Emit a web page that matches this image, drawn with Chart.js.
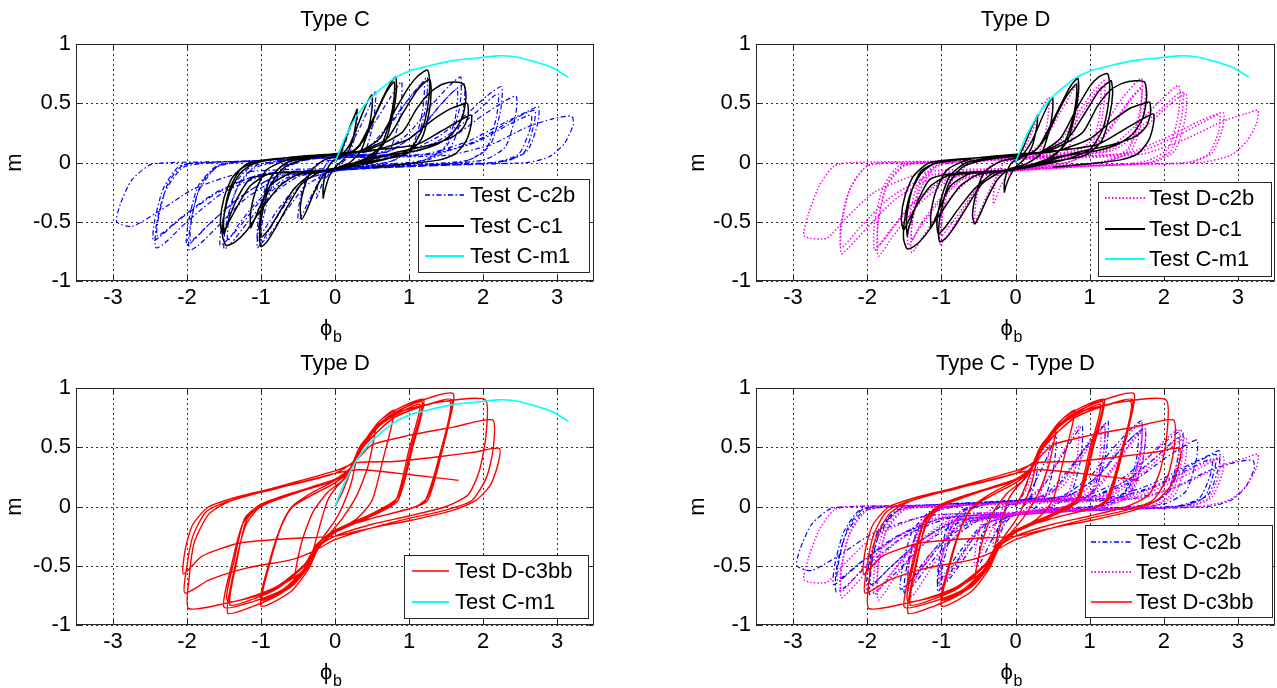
<!DOCTYPE html>
<html><head><meta charset="utf-8">
<script src="https://cdn.jsdelivr.net/npm/chart.js@4/dist/chart.umd.min.js"></script>
<style>
html,body{margin:0;padding:0;background:#fff;width:1277px;height:688px;overflow:hidden}
canvas{position:absolute}
</style></head><body>
<canvas id="c1" style="left:0;top:0;width:640px;height:344px" width="640" height="344"></canvas>
<canvas id="c2" style="left:640px;top:0;width:637px;height:344px" width="637" height="344"></canvas>
<canvas id="c3" style="left:0;top:344px;width:640px;height:344px" width="640" height="344"></canvas>
<canvas id="c4" style="left:640px;top:344px;width:637px;height:344px" width="637" height="344"></canvas>
<script>
// ---------- axis ticks ----------
const xTicks = [-3, -2, -1, 0, 1, 2, 3];
const xTickLabels = ['-3', '-2', '-1', '0', '1', '2', '3'];
const yTicks = [-1, -0.5, 0, 0.5, 1];
const yTickLabels = ['-1', '-0.5', '0', '0.5', '1'];
const titles = ['Type C', 'Type D', 'Type D', 'Type C - Type D'];

// ---------- series (phi_b, m) ----------
const testCm1 = [[0,0],[0.05,0.08],[0.12,0.19],[0.2,0.29],[0.3,0.4],[0.45,0.52],[0.6,0.61],[0.8,0.71],[1.0,0.77],[1.3,0.82],[1.6,0.86],[1.9,0.88],[2.2,0.9],[2.45,0.89],[2.7,0.85],[2.9,0.81],[3.05,0.76],[3.15,0.72]];

const testCc2b = [[0,0],
[0.1,0.1],[0.2,0.28],[0.3,0.42],[0.28,0.25],[0.18,0.05],[0.0,-0.05],[-0.15,-0.15],[-0.25,-0.3],[-0.22,-0.15],[-0.1,0.0],
[0.1,0.04],[0.3,0.25],[0.45,0.45],[0.55,0.6],[0.52,0.35],[0.4,0.08],[0.2,-0.04],[0.0,-0.07],[-0.2,-0.15],[-0.35,-0.32],[-0.5,-0.5],[-0.47,-0.3],[-0.35,-0.08],[-0.2,0.0],
[0.1,0.04],[0.35,0.15],[0.55,0.35],[0.75,0.55],[0.9,0.68],[0.88,0.4],[0.75,0.12],[0.5,0.0],[0.2,-0.05],[-0.1,-0.09],[-0.4,-0.2],[-0.65,-0.4],[-0.85,-0.58],[-1.0,-0.68],[-0.98,-0.5],[-0.85,-0.2],[-0.65,-0.04],[-0.4,0.02],
[0.0,0.05],[0.4,0.1],[0.7,0.3],[0.95,0.5],[1.15,0.65],[1.25,0.72],[1.22,0.45],[1.08,0.15],[0.8,0.02],[0.4,-0.03],[0.0,-0.07],[-0.4,-0.15],[-0.7,-0.38],[-0.9,-0.58],[-1.05,-0.72],[-1.02,-0.5],[-0.9,-0.22],[-0.7,-0.04],[-0.4,0.02],
[0.0,0.05],[0.45,0.1],[0.75,0.32],[1.0,0.54],[1.2,0.68],[1.18,0.42],[1.03,0.12],[0.75,0.01],[0.3,-0.04],[0.0,-0.07],[-0.45,-0.16],[-0.75,-0.38],[-0.95,-0.56],[-1.05,-0.66],[-1.03,-0.45],[-0.92,-0.18],[-0.72,-0.03],[-0.4,0.02],
[0.0,0.05],[0.6,0.08],[1.0,0.25],[1.3,0.48],[1.55,0.65],[1.7,0.72],[1.68,0.45],[1.52,0.15],[1.2,0.02],[0.6,-0.02],[0.0,-0.07],[-0.5,-0.12],[-0.9,-0.3],[-1.2,-0.52],[-1.4,-0.68],[-1.5,-0.73],[-1.48,-0.55],[-1.35,-0.25],[-1.1,-0.05],[-0.7,0.01],
[0.0,0.05],[0.7,0.09],[1.1,0.25],[1.4,0.47],[1.6,0.6],[1.75,0.66],[1.72,0.4],[1.55,0.12],[1.2,0.01],[0.6,-0.03],[0.0,-0.07],[-0.6,-0.13],[-1.0,-0.32],[-1.3,-0.55],[-1.55,-0.7],[-1.52,-0.5],[-1.4,-0.22],[-1.15,-0.04],[-0.8,0.01],
[0.0,0.05],[0.75,0.1],[1.15,0.28],[1.42,0.48],[1.65,0.62],[1.62,0.36],[1.45,0.1],[1.1,0.0],[0.5,-0.03],[0.0,-0.07],[-0.65,-0.13],[-1.05,-0.33],[-1.3,-0.52],[-1.45,-0.66],[-1.43,-0.45],[-1.3,-0.18],[-1.05,-0.02],[-0.7,0.01],
[0.0,0.05],[0.9,0.08],[1.4,0.22],[1.8,0.42],[2.05,0.56],[2.25,0.64],[2.24,0.45],[2.1,0.15],[1.8,0.02],[1.0,-0.02],[0.0,-0.07],[-0.7,-0.12],[-1.2,-0.3],[-1.6,-0.55],[-1.85,-0.7],[-1.97,-0.74],[-1.96,-0.55],[-1.85,-0.25],[-1.6,-0.04],[-1.2,0.01],
[0.0,0.05],[1.0,0.08],[1.6,0.22],[2.0,0.4],[2.3,0.52],[2.45,0.56],[2.44,0.4],[2.3,0.13],[2.0,0.02],[1.0,-0.03],[0.0,-0.07],[-0.8,-0.12],[-1.3,-0.3],[-1.7,-0.52],[-2.0,-0.7],[-1.98,-0.5],[-1.85,-0.2],[-1.6,-0.03],[-1.2,0.01],
[0.0,0.05],[1.0,0.08],[1.5,0.22],[1.9,0.42],[2.2,0.58],[2.18,0.38],[2.03,0.1],[1.7,0.0],[0.9,-0.03],[0.0,-0.07],[-0.8,-0.12],[-1.3,-0.3],[-1.7,-0.52],[-1.95,-0.66],[-1.93,-0.45],[-1.8,-0.17],[-1.55,-0.02],[-1.15,0.01],
[0.0,0.05],[1.2,0.07],[1.8,0.18],[2.3,0.34],[2.6,0.43],[2.75,0.47],[2.74,0.33],[2.6,0.1],[2.3,0.01],[1.2,-0.02],[0.0,-0.06],[-0.9,-0.1],[-1.5,-0.25],[-2.0,-0.5],[-2.3,-0.68],[-2.42,-0.72],[-2.42,-0.55],[-2.3,-0.25],[-2.05,-0.04],[-1.6,0.0],
[0.0,0.04],[1.3,0.07],[1.9,0.18],[2.4,0.36],[2.7,0.44],[2.68,0.3],[2.55,0.08],[2.2,0.0],[1.2,-0.03],[0.0,-0.06],[-1.0,-0.1],[-1.6,-0.26],[-2.1,-0.48],[-2.45,-0.66],[-2.44,-0.5],[-2.32,-0.22],[-2.1,-0.03],[-1.7,0.0],
[0.0,0.04],[1.3,0.07],[1.9,0.17],[2.35,0.32],[2.65,0.4],[2.63,0.27],[2.48,0.07],[2.15,0.0],[1.2,-0.03],[0.0,-0.06],[-1.0,-0.1],[-1.6,-0.25],[-2.05,-0.45],[-2.4,-0.62],[-2.38,-0.45],[-2.26,-0.18],[-2.05,-0.02],[-1.7,0.0],
[0.0,0.04],[1.5,0.06],[2.1,0.15],[2.6,0.3],[2.95,0.37],[3.2,0.39],[3.22,0.32],[3.1,0.16],[2.9,0.05],[2.6,0.0],[1.5,-0.02],[0.0,-0.05],[-1.2,-0.08],[-1.9,-0.22],[-2.4,-0.42],[-2.75,-0.54],[-2.95,-0.5],[-2.9,-0.35],[-2.75,-0.15],[-2.5,-0.02],[-2.2,0.0],[-1.0,0.01]];

const testCc1 = [[0,0],
[0.1,0.12],[0.2,0.3],[0.28,0.42],[0.3,0.45],[0.28,0.32],[0.22,0.15],[0.12,0.03],[0.0,-0.04],[-0.08,-0.12],[-0.14,-0.24],[-0.16,-0.3],[-0.16,-0.2],[-0.12,-0.08],[-0.05,0.0],[0.05,0.04],
[0.2,0.15],[0.33,0.35],[0.43,0.5],[0.5,0.57],[0.5,0.45],[0.45,0.28],[0.35,0.1],[0.2,0.0],[0.0,-0.05],[-0.15,-0.1],[-0.28,-0.25],[-0.38,-0.4],[-0.45,-0.48],[-0.47,-0.38],[-0.42,-0.22],[-0.32,-0.07],[-0.15,0.02],[0.1,0.06],
[0.3,0.12],[0.5,0.35],[0.65,0.55],[0.75,0.67],[0.82,0.72],[0.83,0.6],[0.78,0.4],[0.68,0.18],[0.5,0.05],[0.1,-0.04],[-0.2,-0.08],[-0.45,-0.18],[-0.65,-0.38],[-0.82,-0.57],[-0.92,-0.67],[-1.0,-0.71],[-1.02,-0.62],[-0.98,-0.42],[-0.88,-0.2],[-0.7,-0.05],[-0.5,0.01],[-0.2,0.05],[0.2,0.08],
[0.4,0.2],[0.56,0.42],[0.7,0.6],[0.8,0.68],[0.8,0.55],[0.74,0.35],[0.62,0.14],[0.4,0.03],[0.0,-0.05],[-0.3,-0.09],[-0.55,-0.22],[-0.75,-0.42],[-0.9,-0.57],[-1.0,-0.63],[-1.02,-0.52],[-0.97,-0.32],[-0.86,-0.12],[-0.65,0.0],[-0.2,0.06],[0.3,0.09],
[0.6,0.2],[0.82,0.45],[1.0,0.64],[1.12,0.73],[1.25,0.78],[1.28,0.68],[1.26,0.5],[1.18,0.28],[1.02,0.12],[0.7,0.03],[0.0,-0.06],[-0.5,-0.1],[-0.75,-0.2],[-1.0,-0.4],[-1.2,-0.58],[-1.35,-0.67],[-1.47,-0.7],[-1.52,-0.62],[-1.5,-0.45],[-1.42,-0.25],[-1.28,-0.09],[-1.1,-0.01],[-0.8,0.03],[-0.3,0.06],[0.3,0.09],
[0.7,0.2],[0.92,0.42],[1.1,0.6],[1.2,0.67],[1.28,0.7],[1.3,0.6],[1.27,0.42],[1.17,0.2],[0.95,0.07],[0.4,0.0],[-0.2,-0.07],[-0.9,-0.1],[-1.15,-0.2],[-1.33,-0.38],[-1.45,-0.52],[-1.52,-0.6],[-1.55,-0.5],[-1.5,-0.3],[-1.38,-0.12],[-1.15,0.0],[-0.5,0.05],[0.4,0.1],
[0.9,0.25],[1.1,0.45],[1.28,0.59],[1.45,0.66],[1.62,0.68],[1.74,0.66],[1.77,0.55],[1.72,0.38],[1.58,0.24],[1.4,0.16],[1.1,0.1],[0.5,0.04],[0.0,-0.06],[-0.8,-0.09],[-1.15,-0.14],[-1.32,-0.3],[-1.42,-0.45],[-1.48,-0.57],[-1.5,-0.6],[-1.5,-0.45],[-1.42,-0.22],[-1.28,-0.06],[-1.05,0.01],[-0.5,0.05],[0.5,0.1],
[1.0,0.2],[1.3,0.35],[1.55,0.45],[1.72,0.49],[1.79,0.5],[1.8,0.4],[1.74,0.3],[1.6,0.22],[1.3,0.15],[0.8,0.08],[0.0,-0.06],[-0.6,-0.09],[-0.88,-0.2],[-1.02,-0.38],[-1.1,-0.5],[-1.14,-0.55],[-1.14,-0.42],[-1.06,-0.22],[-0.92,-0.06],[-0.6,0.03],[0.4,0.1],
[1.1,0.15],[1.45,0.27],[1.7,0.36],[1.84,0.4],[1.84,0.32],[1.77,0.18],[1.62,0.07],[1.4,0.02],[1.0,-0.01],[0.5,-0.04]];

const testDc2b = [[0,0],
[0.15,0.15],[0.3,0.38],[0.45,0.55],[0.42,0.3],[0.3,0.06],[0.1,-0.04],[-0.1,-0.1],[-0.2,-0.2],[-0.3,-0.35],[-0.27,-0.15],[-0.15,0.0],
[0.1,0.04],[0.4,0.2],[0.6,0.42],[0.75,0.58],[0.85,0.68],[0.83,0.4],[0.7,0.1],[0.45,0.0],[0.0,-0.06],[-0.25,-0.12],[-0.4,-0.3],[-0.55,-0.5],[-0.52,-0.28],[-0.4,-0.06],[-0.2,0.01],
[0.2,0.05],[0.6,0.18],[0.85,0.42],[1.05,0.6],[1.2,0.69],[1.18,0.42],[1.05,0.12],[0.75,0.01],[0.3,-0.03],[-0.1,-0.07],[-0.45,-0.17],[-0.7,-0.4],[-0.9,-0.6],[-1.02,-0.69],[-1.0,-0.48],[-0.88,-0.18],[-0.65,-0.02],[-0.3,0.02],
[0.2,0.05],[0.62,0.16],[0.88,0.4],[1.05,0.56],[1.15,0.64],[1.13,0.38],[1.0,0.1],[0.7,0.0],[0.2,-0.04],[-0.2,-0.08],[-0.5,-0.2],[-0.75,-0.42],[-0.92,-0.56],[-1.0,-0.62],[-0.98,-0.42],[-0.86,-0.15],[-0.62,-0.01],[-0.3,0.02],
[0.3,0.06],[0.9,0.12],[1.2,0.32],[1.45,0.55],[1.7,0.71],[1.68,0.45],[1.52,0.12],[1.2,0.01],[0.5,-0.03],[0.0,-0.07],[-0.6,-0.14],[-0.95,-0.35],[-1.2,-0.58],[-1.4,-0.76],[-1.4,-0.55],[-1.3,-0.25],[-1.08,-0.04],[-0.7,0.01],
[0.3,0.05],[1.0,0.12],[1.3,0.32],[1.55,0.54],[1.75,0.66],[1.72,0.4],[1.56,0.1],[1.2,0.0],[0.5,-0.03],[0.0,-0.07],[-0.7,-0.14],[-1.05,-0.35],[-1.3,-0.56],[-1.45,-0.7],[-1.44,-0.5],[-1.33,-0.2],[-1.1,-0.03],[-0.7,0.01],
[0.3,0.05],[1.0,0.1],[1.3,0.3],[1.52,0.5],[1.7,0.62],[1.67,0.36],[1.5,0.08],[1.15,0.0],[0.5,-0.03],[0.0,-0.07],[-0.7,-0.13],[-1.05,-0.33],[-1.28,-0.52],[-1.4,-0.66],[-1.39,-0.45],[-1.28,-0.17],[-1.05,-0.02],[-0.7,0.01],
[0.3,0.05],[1.2,0.1],[1.6,0.3],[1.95,0.52],[2.2,0.65],[2.2,0.42],[2.06,0.12],[1.75,0.01],[1.0,-0.03],[0.0,-0.07],[-0.8,-0.12],[-1.3,-0.35],[-1.65,-0.62],[-1.85,-0.79],[-1.86,-0.55],[-1.75,-0.22],[-1.5,-0.03],[-1.0,0.0],
[0.3,0.05],[1.3,0.1],[1.75,0.3],[2.1,0.5],[2.3,0.58],[2.29,0.38],[2.15,0.1],[1.85,0.0],[1.0,-0.03],[0.0,-0.07],[-0.9,-0.12],[-1.4,-0.35],[-1.7,-0.58],[-1.9,-0.74],[-1.9,-0.5],[-1.78,-0.2],[-1.55,-0.02],[-1.0,0.0],
[0.3,0.05],[1.25,0.1],[1.65,0.28],[2.0,0.47],[2.25,0.6],[2.24,0.38],[2.1,0.1],[1.8,0.0],[1.0,-0.03],[0.0,-0.07],[-0.85,-0.12],[-1.35,-0.33],[-1.65,-0.55],[-1.85,-0.7],[-1.85,-0.48],[-1.73,-0.18],[-1.5,-0.02],[-1.0,0.0],
[0.3,0.04],[1.5,0.08],[2.0,0.2],[2.45,0.34],[2.8,0.42],[2.79,0.28],[2.65,0.08],[2.35,0.0],[1.2,-0.02],[0.0,-0.06],[-1.0,-0.1],[-1.6,-0.3],[-2.0,-0.55],[-2.25,-0.72],[-2.35,-0.77],[-2.36,-0.55],[-2.25,-0.25],[-2.0,-0.03],[-1.5,0.0],
[0.3,0.04],[1.6,0.08],[2.1,0.2],[2.5,0.33],[2.75,0.4],[2.74,0.26],[2.6,0.07],[2.3,0.0],[1.2,-0.02],[0.0,-0.06],[-1.1,-0.1],[-1.7,-0.3],[-2.1,-0.55],[-2.35,-0.72],[-2.34,-0.5],[-2.22,-0.2],[-1.98,-0.02],[-1.5,0.0],
[0.3,0.03],[1.7,0.07],[2.3,0.2],[2.8,0.35],[3.1,0.41],[3.27,0.44],[3.25,0.33],[3.12,0.18],[2.9,0.06],[2.5,0.0],[1.5,-0.02],[0.0,-0.05],[-1.2,-0.08],[-1.9,-0.25],[-2.3,-0.48],[-2.55,-0.64],[-2.85,-0.62],[-2.8,-0.45],[-2.65,-0.2],[-2.45,-0.03],[-2.2,0.0],[-1.0,0.01]];

const testDc1 = [[0,0],
[0.1,0.12],[0.2,0.27],[0.28,0.38],[0.3,0.4],[0.28,0.28],[0.22,0.13],[0.12,0.03],[0.0,-0.04],[-0.08,-0.12],[-0.13,-0.2],[-0.15,-0.25],[-0.15,-0.17],[-0.11,-0.07],[-0.05,0.0],[0.05,0.03],
[0.22,0.18],[0.36,0.38],[0.45,0.5],[0.5,0.55],[0.5,0.43],[0.45,0.26],[0.35,0.08],[0.15,-0.01],[-0.1,-0.06],[-0.25,-0.15],[-0.38,-0.3],[-0.48,-0.44],[-0.55,-0.52],[-0.58,-0.44],[-0.53,-0.26],[-0.42,-0.08],[-0.2,0.01],[0.1,0.05],
[0.3,0.12],[0.5,0.35],[0.66,0.55],[0.76,0.66],[0.84,0.71],[0.85,0.6],[0.8,0.4],[0.7,0.18],[0.5,0.05],[0.1,-0.04],[-0.2,-0.08],[-0.45,-0.18],[-0.65,-0.37],[-0.83,-0.55],[-0.94,-0.64],[-1.02,-0.67],[-1.04,-0.58],[-1.0,-0.4],[-0.9,-0.18],[-0.72,-0.04],[-0.5,0.01],[-0.2,0.04],[0.2,0.07],
[0.4,0.2],[0.57,0.42],[0.7,0.57],[0.82,0.66],[0.82,0.54],[0.76,0.34],[0.63,0.13],[0.4,0.02],[0.0,-0.05],[-0.3,-0.09],[-0.55,-0.22],[-0.78,-0.4],[-0.94,-0.54],[-1.04,-0.6],[-1.06,-0.5],[-1.0,-0.3],[-0.88,-0.11],[-0.66,0.0],[-0.2,0.05],[0.3,0.08],
[0.6,0.2],[0.82,0.45],[1.0,0.64],[1.12,0.72],[1.24,0.75],[1.27,0.66],[1.25,0.48],[1.17,0.27],[1.0,0.11],[0.7,0.03],[0.0,-0.06],[-0.5,-0.1],[-0.75,-0.2],[-1.0,-0.42],[-1.2,-0.6],[-1.35,-0.7],[-1.46,-0.73],[-1.51,-0.64],[-1.49,-0.46],[-1.41,-0.25],[-1.27,-0.09],[-1.1,-0.01],[-0.8,0.02],[-0.3,0.05],[0.3,0.08],
[0.7,0.2],[0.94,0.42],[1.12,0.6],[1.22,0.66],[1.29,0.69],[1.31,0.58],[1.27,0.4],[1.16,0.18],[0.94,0.06],[0.4,0.0],[-0.2,-0.07],[-0.9,-0.11],[-1.15,-0.2],[-1.33,-0.36],[-1.45,-0.5],[-1.51,-0.57],[-1.54,-0.47],[-1.49,-0.28],[-1.37,-0.11],[-1.15,0.0],[-0.5,0.04],[0.4,0.09],
[0.9,0.25],[1.1,0.47],[1.28,0.61],[1.45,0.67],[1.62,0.69],[1.74,0.68],[1.77,0.56],[1.72,0.38],[1.58,0.24],[1.4,0.16],[1.1,0.1],[0.5,0.04],[0.0,-0.06],[-0.8,-0.09],[-1.15,-0.14],[-1.3,-0.3],[-1.4,-0.47],[-1.45,-0.58],[-1.46,-0.62],[-1.47,-0.48],[-1.4,-0.24],[-1.27,-0.07],[-1.05,0.0],[-0.5,0.04],[0.5,0.09],
[1.0,0.2],[1.3,0.35],[1.55,0.46],[1.74,0.5],[1.81,0.51],[1.82,0.41],[1.76,0.3],[1.62,0.22],[1.3,0.15],[0.8,0.08],[0.0,-0.06],[-0.6,-0.09],[-0.88,-0.2],[-1.02,-0.38],[-1.1,-0.5],[-1.14,-0.55],[-1.14,-0.42],[-1.06,-0.22],[-0.92,-0.06],[-0.6,0.03],[0.4,0.09],
[1.1,0.15],[1.47,0.28],[1.72,0.37],[1.86,0.41],[1.86,0.32],[1.79,0.18],[1.64,0.07],[1.4,0.02],[1.0,-0.01],[0.5,-0.04]];

const testDc3bb = [[0,0],
[0.1,0.12],[0.2,0.28],[0.3,0.45],[0.22,0.2],[0.1,0.0],[0.0,-0.12],[-0.15,-0.25],[-0.3,-0.4],[-0.2,-0.15],[-0.1,0.05],[0.0,0.15],
[0.15,0.25],[0.3,0.42],[0.45,0.6],[0.55,0.67],[0.45,0.35],[0.3,0.1],[0.1,-0.1],[-0.1,-0.25],[-0.3,-0.42],[-0.45,-0.57],[-0.55,-0.62],[-0.45,-0.3],[-0.3,-0.05],[-0.1,0.12],[0.1,0.22],
[0.25,0.35],[0.4,0.55],[0.6,0.72],[0.8,0.81],[0.65,0.4],[0.5,0.05],[0.3,-0.1],[0.0,-0.22],[-0.2,-0.32],[-0.35,-0.52],[-0.6,-0.72],[-1.0,-0.84],[-0.9,-0.5],[-0.75,-0.2],[-0.58,0.0],[-0.3,0.12],[0.0,0.22],
[0.2,0.32],[0.35,0.5],[0.6,0.72],[0.9,0.84],[1.2,0.9],[1.05,0.5],[0.85,0.05],[0.5,-0.08],[0.0,-0.22],[-0.2,-0.33],[-0.35,-0.5],[-0.6,-0.68],[-1.0,-0.79],[-0.9,-0.5],[-0.72,-0.15],[-0.58,0.0],[-0.3,0.1],[0.0,0.2],
[0.2,0.3],[0.35,0.48],[0.6,0.68],[0.9,0.8],[1.15,0.86],[1.0,0.48],[0.82,0.05],[0.5,-0.07],[0.0,-0.21],[-0.2,-0.32],[-0.35,-0.5],[-0.6,-0.67],[-0.98,-0.78],[-0.88,-0.48],[-0.71,-0.14],[-0.57,0.0],[-0.3,0.1],[0.0,0.2],
[0.2,0.3],[0.35,0.5],[0.6,0.7],[0.9,0.82],[1.18,0.88],[1.03,0.5],[0.85,0.08],[0.5,-0.06],[0.0,-0.2],[-0.2,-0.3],[-0.35,-0.48],[-0.7,-0.72],[-1.1,-0.84],[-1.45,-0.9],[-1.35,-0.5],[-1.2,-0.15],[-1.0,0.0],[-0.5,0.12],[0.0,0.22],
[0.2,0.32],[0.35,0.52],[0.7,0.75],[1.1,0.88],[1.6,0.95],[1.45,0.5],[1.25,0.08],[1.1,0.0],[0.5,-0.1],[0.0,-0.2],[-0.2,-0.3],[-0.35,-0.48],[-0.7,-0.7],[-1.1,-0.8],[-1.5,-0.85],[-1.4,-0.5],[-1.25,-0.15],[-1.05,0.0],[-0.5,0.12],[0.0,0.22],
[0.2,0.31],[0.38,0.5],[0.75,0.73],[1.15,0.84],[1.56,0.88],[1.42,0.45],[1.22,0.05],[1.05,-0.01],[0.5,-0.1],[0.0,-0.2],[-0.22,-0.31],[-0.38,-0.48],[-0.75,-0.68],[-1.1,-0.78],[-1.42,-0.83],[-1.33,-0.47],[-1.2,-0.12],[-1.0,0.01],[-0.5,0.12],[0.0,0.22],
[0.2,0.3],[0.4,0.52],[0.8,0.75],[1.2,0.85],[1.58,0.9],[1.44,0.45],[1.25,0.05],[1.0,-0.02],[0.5,-0.1],[0.0,-0.2],[-0.25,-0.32],[-0.4,-0.48],[-0.8,-0.68],[-1.45,-0.8],[-1.36,-0.45],[-1.22,-0.1],[-1.0,0.02],[-0.5,0.13],[0.0,0.23],
[0.25,0.35],[0.4,0.55],[0.8,0.78],[1.4,0.88],[2.03,0.9],[2.04,0.6],[1.95,0.3],[1.8,0.1],[1.5,0.0],[1.0,-0.08],[0.5,-0.15],[0.0,-0.25],[-0.25,-0.35],[-0.45,-0.55],[-0.9,-0.72],[-1.5,-0.82],[-1.98,-0.86],[-1.97,-0.6],[-1.9,-0.3],[-1.7,-0.06],[-1.4,0.05],[-0.8,0.15],[0.0,0.28],
[0.3,0.4],[0.5,0.52],[1.0,0.6],[1.6,0.67],[2.13,0.73],[2.14,0.5],[2.05,0.25],[1.85,0.05],[1.5,-0.03],[1.0,-0.1],[0.5,-0.18],[0.0,-0.28],[-0.3,-0.38],[-0.6,-0.45],[-1.2,-0.52],[-1.7,-0.62],[-2.03,-0.73],[-2.0,-0.5],[-1.92,-0.25],[-1.75,-0.05],[-1.5,0.03],[-0.8,0.16],[0.0,0.3],
[0.3,0.37],[0.8,0.38],[1.4,0.42],[1.9,0.46],[2.22,0.49],[2.2,0.35],[2.1,0.18],[1.9,0.05],[1.6,-0.03],[1.0,-0.12],[0.5,-0.18],[0.0,-0.25],[-0.6,-0.27],[-1.3,-0.31],[-1.8,-0.42],[-2.05,-0.57],[-2.02,-0.35],[-1.92,-0.15],[-1.7,0.0],[-1.2,0.1],[-0.5,0.2],[0.0,0.28],[0.34,0.31],[1.0,0.27],[1.67,0.22]];

// ---------- styles ----------
const FONT = '"Liberation Sans", Arial, Helvetica, sans-serif';
const ST = {
  Cc2b: {color:'#0000ff', width:1.2, dash:[5,2.5,1.5,2.5]},
  Dc2b: {color:'#ff00ff', width:1.5, dash:[1.5,2]},
  c1:   {color:'#000000', width:1.5, dash:[]},
  m1:   {color:'#00ffff', width:1.6, dash:[]},
  red:  {color:'#ff0000', width:1.4, dash:[]}
};

const deco = {
  id:'deco',
  beforeDatasetsDraw(chart, args, o){
    const {ctx, chartArea:a, scales:{x, y}} = chart;
    ctx.save();
    ctx.strokeStyle = '#333'; ctx.lineWidth = 1; ctx.setLineDash([2,3]);
    xTicks.forEach(v => { const px = Math.round(x.getPixelForValue(v)) + 0.5;
      ctx.beginPath(); ctx.moveTo(px, a.top); ctx.lineTo(px, a.bottom); ctx.stroke(); });
    yTicks.forEach(v => { const py = Math.round(y.getPixelForValue(v)) + 0.5;
      ctx.beginPath(); ctx.moveTo(a.left, py); ctx.lineTo(a.right, py); ctx.stroke(); });
    ctx.restore();
  },
  afterDatasetsDraw(chart, args, o){
    const {ctx, chartArea:a, scales:{x, y}} = chart;
    ctx.save();
    ctx.strokeStyle = '#262626'; ctx.lineWidth = 1; ctx.setLineDash([]);
    const L = Math.round(a.left)+0.5, T = Math.round(a.top)+0.5, R = Math.round(a.right)-0.5, B = Math.round(a.bottom)-0.5;
    ctx.strokeRect(L, T, R-L, B-T);
    ctx.beginPath();
    xTicks.forEach(v => { const px = Math.round(x.getPixelForValue(v)) + 0.5;
      ctx.moveTo(px, B); ctx.lineTo(px, B-5); ctx.moveTo(px, T); ctx.lineTo(px, T+5); });
    yTicks.forEach(v => { const py = Math.round(y.getPixelForValue(v)) + 0.5;
      ctx.moveTo(L, py); ctx.lineTo(L+5, py); ctx.moveTo(R, py); ctx.lineTo(R-5, py); });
    ctx.stroke();
    const lg = o.legend;
    ctx.fillStyle = '#fff';
    ctx.fillRect(lg.box[0], lg.box[1], lg.box[2]-lg.box[0], lg.box[3]-lg.box[1]);
    ctx.strokeStyle = '#262626';
    ctx.strokeRect(lg.box[0]+0.5, lg.box[1]+0.5, lg.box[2]-lg.box[0], lg.box[3]-lg.box[1]);
    ctx.font = '22px ' + FONT; ctx.textBaseline = 'middle'; ctx.textAlign = 'left';
    lg.items.forEach((it, i) => {
      const yy = lg.ys[i];
      ctx.strokeStyle = it.s.color; ctx.lineWidth = it.s.width + 0.3; ctx.setLineDash(it.s.dash);
      ctx.beginPath(); ctx.moveTo(lg.line[0], yy); ctx.lineTo(lg.line[1], yy); ctx.stroke();
      ctx.fillStyle = '#000'; ctx.fillText(it.label, lg.textX, yy + 1);
    });
    ctx.restore();
  },
  afterDraw(chart, args, o){
    const {ctx, chartArea:a} = chart;
    const cx = (a.left + a.right) / 2, cy = (a.top + a.bottom) / 2;
    ctx.save();
    ctx.fillStyle = '#000';
    ctx.font = '22px ' + FONT; ctx.textAlign = 'center'; ctx.textBaseline = 'alphabetic';
    ctx.fillText(o.title, cx, 26);
    ctx.textAlign = 'left';
    ctx.fillText('\u03D5', cx - 15, 335);
    ctx.font = '16px ' + FONT;
    ctx.fillText('b', cx - 2, 342);
    ctx.font = '22px ' + FONT;
    ctx.translate(o.ylabX, cy); ctx.rotate(-Math.PI/2);
    ctx.textAlign = 'center';
    ctx.fillText('m', 0, 0);
    ctx.restore();
  }
};

function makeChart(id, cfg){
  const datasets = cfg.series.map((s, i) => ({
    data: s.data.map(p => ({x:p[0], y:p[1]})),
    borderColor: s.st.color, borderWidth: s.st.width, borderDash: s.st.dash,
    showLine: true, pointRadius: 0, tension: 0.22, fill: false, order: cfg.series.length - i
  }));
  const tickFont = {family: FONT, size: 22};
  new Chart(document.getElementById(id), {
    type: 'scatter',
    data: {datasets},
    options: {
      responsive: false, animation: false, events: [],
      layout: {padding: {left: 0, top: 44, right: cfg.padRight, bottom: 0}},
      plugins: {legend: {display: false}, tooltip: {enabled: false}, title: {display: false}, deco: cfg.deco},
      scales: {
        x: {type: 'linear', min: -3.5, max: 3.5,
            afterBuildTicks: s => { s.ticks = xTicks.map(v => ({value: v})); },
            afterFit: s => { s.height = 63; },
            grid: {display: false, drawTicks: false}, border: {display: false},
            ticks: {font: tickFont, color: '#000', padding: 4, maxRotation: 0, autoSkip: false,
                    callback: v => xTickLabels[xTicks.indexOf(v)]}},
        y: {type: 'linear', min: -1, max: 1,
            afterBuildTicks: s => { s.ticks = yTicks.map(v => ({value: v})); },
            afterFit: s => { s.width = cfg.yW; },
            grid: {display: false, drawTicks: false}, border: {display: false},
            ticks: {font: tickFont, color: '#000', padding: 5, autoSkip: false,
                    callback: v => yTickLabels[yTicks.indexOf(v)]}}
      }
    },
    plugins: [deco]
  });
}

makeChart('c1', {padRight: 46, yW: 76,
  series: [{data: testCc2b, st: ST.Cc2b}, {data: testCc1, st: ST.c1}, {data: testCm1, st: ST.m1}],
  deco: {title: titles[0], ylabX: 21, legend: {box: [418,179,589,272], ys: [195,226,256], line: [425,464], textX: 470,
    items: [{label:'Test C-c2b', s:ST.Cc2b}, {label:'Test C-c1', s:ST.c1}, {label:'Test C-m1', s:ST.m1}]}}});
makeChart('c2', {padRight: 2, yW: 116,
  series: [{data: testDc2b, st: ST.Dc2b}, {data: testDc1, st: ST.c1}, {data: testCm1, st: ST.m1}],
  deco: {title: titles[1], ylabX: 64, legend: {box: [458,182,631,276], ys: [198,229,259], line: [465,505], textX: 509,
    items: [{label:'Test D-c2b', s:ST.Dc2b}, {label:'Test D-c1', s:ST.c1}, {label:'Test C-m1', s:ST.m1}]}}});
makeChart('c3', {padRight: 46, yW: 76,
  series: [{data: testDc3bb, st: ST.red}, {data: testCm1, st: ST.m1}],
  deco: {title: titles[2], ylabX: 21, legend: {box: [404,211,588,274], ys: [227,258], line: [412,449], textX: 455,
    items: [{label:'Test D-c3bb', s:ST.red}, {label:'Test C-m1', s:ST.m1}]}}});
makeChart('c4', {padRight: 2, yW: 116,
  series: [{data: testCc2b, st: ST.Cc2b}, {data: testDc2b, st: ST.Dc2b}, {data: testDc3bb, st: ST.red}],
  deco: {title: titles[3], ylabX: 64, legend: {box: [445,181,632,273], ys: [198,228,258], line: [451,492], textX: 496,
    items: [{label:'Test C-c2b', s:ST.Cc2b}, {label:'Test D-c2b', s:ST.Dc2b}, {label:'Test D-c3bb', s:ST.red}]}}});
</script>
</body></html>
